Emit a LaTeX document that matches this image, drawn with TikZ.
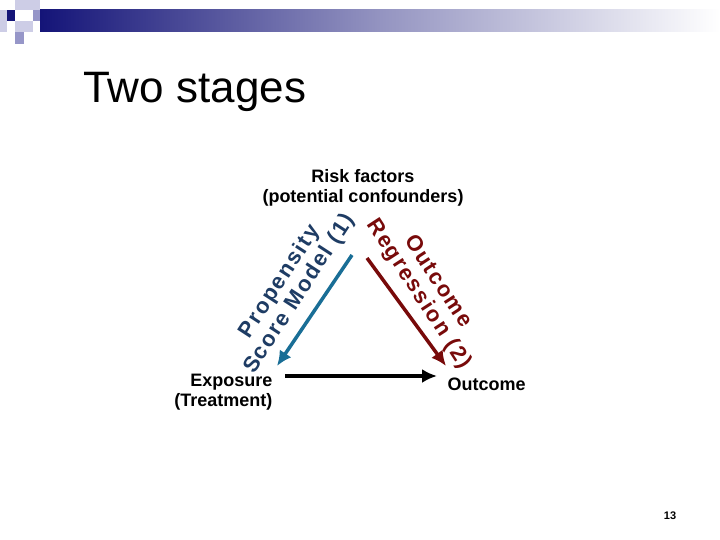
\documentclass[tikz,border=0pt]{standalone}
\usepackage{fontspec}
\usetikzlibrary{arrows.meta}
\setmainfont{Liberation Sans}
\newfontfamily\spaced[LetterSpace=8]{Liberation Sans}
\begin{document}
\begin{tikzpicture}[x=1pt,y=-1pt,
 lab/.style={font=\bfseries\fontsize{18}{20}\selectfont, align=center},
 rlab/.style={align=center, font=\spaced\bfseries\fontsize{22}{23}\selectfont},
 arr/.style={line width=3.5pt,-{Latex[length=15pt,width=14pt]}}]
\useasboundingbox (0,0) rectangle (720,540);
\fill[white] (0,0) rectangle (720,540);
\definecolor{navy}{RGB}{20,20,120}
\definecolor{lav}{RGB}{150,150,200}
\definecolor{lavl}{RGB}{205,205,230}
\definecolor{pblue}{RGB}{25,110,150}
\definecolor{pdark}{RGB}{30,60,100}
\definecolor{dred}{RGB}{120,10,10}
\shade[left color=navy, right color=white, middle color=lav!90!gray] (40,10) rectangle (720,32);
\fill[lavl] (15,0) rectangle (40,10);
\fill[lavl] (0,10) rectangle (7,32);
\fill[navy] (7,10) rectangle (15,21);
\fill[lav] (33,10) rectangle (40,21);
\fill[lavl] (15,21) rectangle (33,32);
\fill[lav] (15,32) rectangle (24,44);
\node[anchor=west, font=\fontsize{44}{48}\selectfont] (title) at (80,92) {Two stages};
\node[lab] (risk) at (363,188) {Risk factors\\(potential confounders)};
\node[lab, align=right, anchor=east] (exp) at (276,392) {Exposure\\(Treatment)};
\node[lab, anchor=west] (out) at (444,384) {Outcome};
\coordinate (b1) at (352,255); \coordinate (b2) at (277,366);
\coordinate (r1) at (367,258); \coordinate (r2) at (446,366);
\coordinate (k1) at (285,376); \coordinate (k2) at (437,376);
\draw[arr,pblue] (b1) -- (b2);
\draw[arr,dred] (r1) -- (r2);
\draw[arr,black] (k1) -- (k2);
\node[rlab, text=pdark, rotate=57] (ps) at (290,288) {Propensity\\Score Model (1)};
\node[rlab, text=dred, rotate=-57] (orr) at (428,288) {Outcome\\Regression (2)};
\node[font=\bfseries\fontsize{11}{12}\selectfont] (pg) at (670,516) {13};
\end{tikzpicture}
\end{document}
